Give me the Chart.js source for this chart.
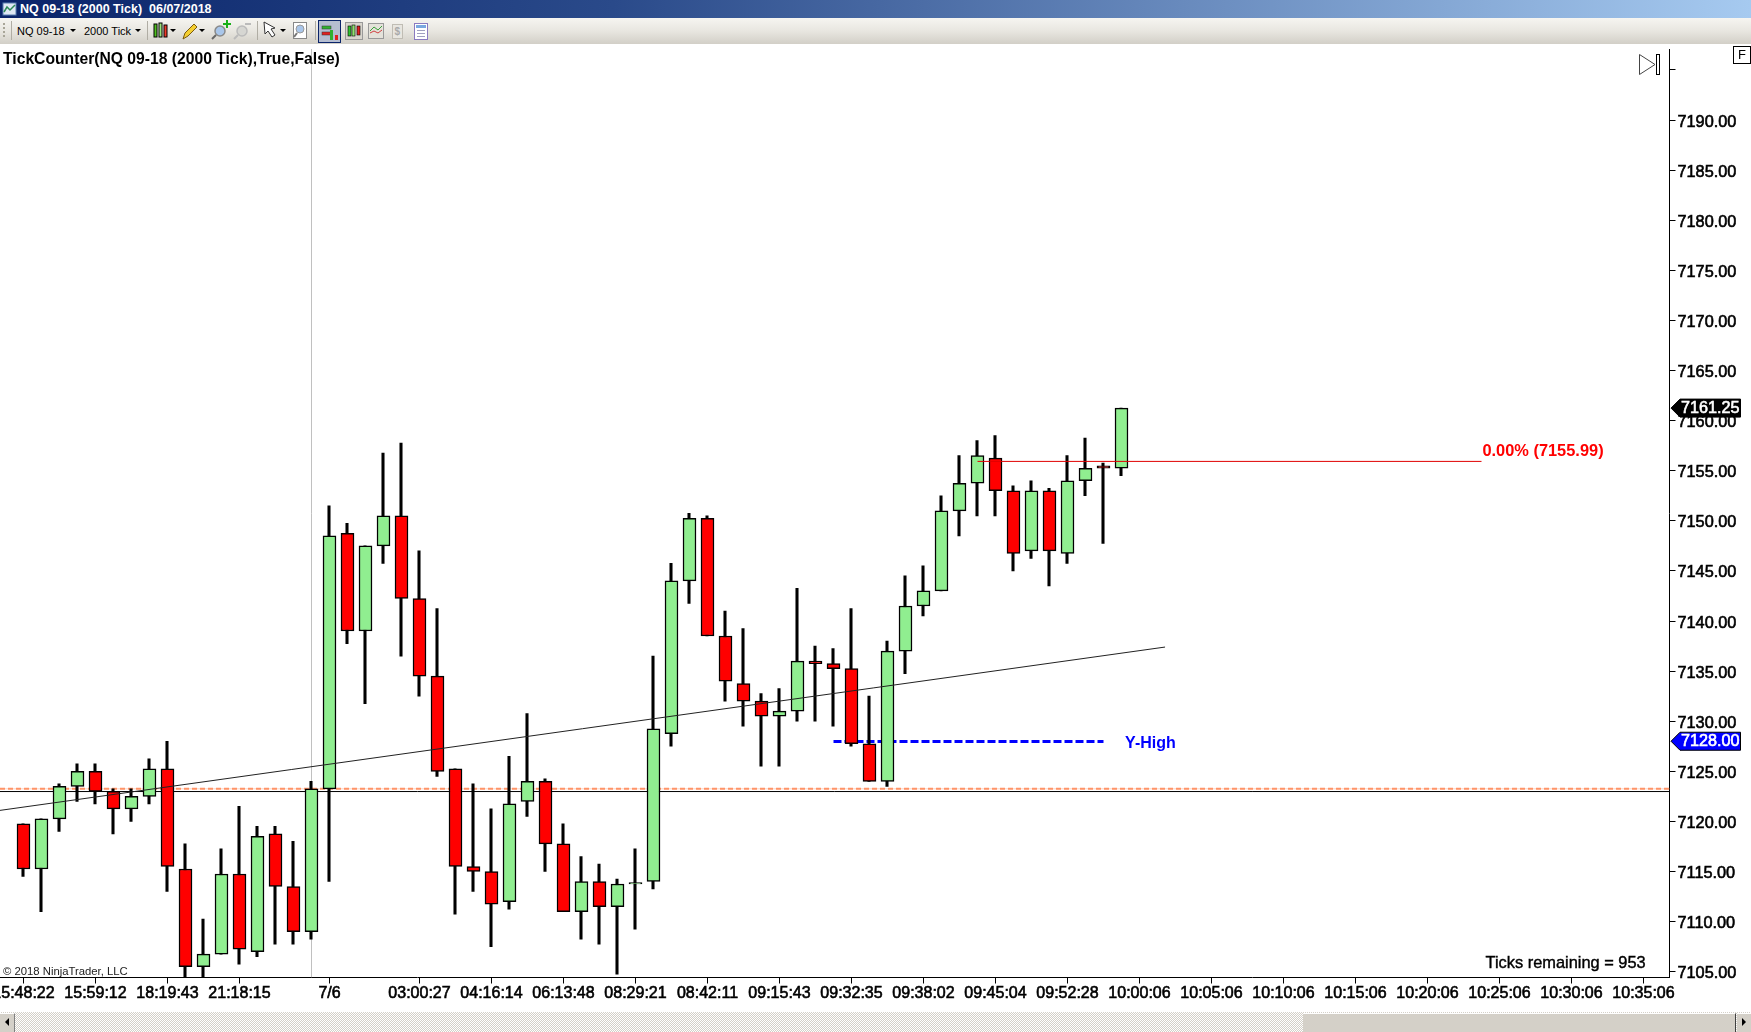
<!DOCTYPE html>
<html>
<head>
<meta charset="utf-8">
<title>NQ 09-18 (2000 Tick)</title>
<script src="https://cdn.jsdelivr.net/npm/chart.js@4"></script>
<style>
  html, body { margin: 0; padding: 0; background: #fff; overflow: hidden; }
  body { width: 1751px; height: 1032px; position: relative; font-family: "Liberation Sans", Arial, sans-serif; }
  #titlebar { position: absolute; left: 0; top: 0; width: 1751px; height: 18px; background: linear-gradient(to right, #0a246a 0%, #2a4a8a 35%, #a6caf0 100%); color: #fff; font: bold 12.5px "Liberation Sans", Arial, sans-serif; line-height: 18px; }
  #titlebar span { position: absolute; left: 20px; top: 0; white-space: pre; }
  #toolbar { position: absolute; left: 0; top: 18px; width: 1751px; height: 26px; background: linear-gradient(to bottom, #f6f5f1 0%, #e8e6e0 50%, #d2cfc7 100%); }
  #toolbar span { position: absolute; top: 7px; font: 11px "Liberation Sans", Arial, sans-serif; color: #000; }
  #toolbar svg { position: absolute; left: 0; top: 0; }
  #chartbox { position: absolute; left: 0; top: 44px; width: 1751px; height: 968px; }
  #scrollbar { position: absolute; left: 0; top: 1012px; width: 1751px; height: 20px; background-color: #fff; background-image: repeating-conic-gradient(#d4d0c8 0 25%, #fff 0 50%); background-size: 2px 2px; }
  #scrollbar div { position: absolute; top: 1px; height: 19px; background: #d4d0c8; border-top: 1px solid #fff; box-sizing: border-box; }
  #btnL { left: 0; width: 15px; border-right: 1px solid #808080; }
  #thumb { left: 1303px; width: 433px; border-right: 1px solid #404040; }
  #btnR { left: 1737px; width: 14px; }
  #scrollbar svg { position: absolute; left: 0; top: 0; }
</style>
</head>
<body>
<div id="titlebar"><svg width="18" height="18" style="position:absolute;left:2px;top:0"><rect x="1" y="3" width="13" height="12" fill="#dfe8f5" stroke="#5a7fb0"/><polyline points="2,12 5,7 8,10 13,5" fill="none" stroke="#2e8b57" stroke-width="1.5"/></svg><span>NQ 09-18 (2000 Tick)  06/07/2018</span></div>
<div id="toolbar">
  <span style="left:17px">NQ 09-18</span>
  <span style="left:84px">2000 Tick</span>
  <svg width="440" height="26">
    <g fill="#a8a598"><rect x="3" y="5" width="2" height="2"/><rect x="3" y="9" width="2" height="2"/><rect x="3" y="13" width="2" height="2"/><rect x="3" y="17" width="2" height="2"/></g>
    <g stroke="#b0ada4"><line x1="11.5" y1="3" x2="11.5" y2="22"/><line x1="147.5" y1="3" x2="147.5" y2="22"/><line x1="257.5" y1="3" x2="257.5" y2="22"/><line x1="315.5" y1="3" x2="315.5" y2="22"/></g>
    <g fill="#000"><path d="M70 11h6l-3 3z"/><path d="M135 11h6l-3 3z"/><path d="M170 11h6l-3 3z"/><path d="M199 11h6l-3 3z"/><path d="M280 11h6l-3 3z"/></g>
    <g stroke="#000"><rect x="154" y="6" width="3" height="13" fill="#4fc01f"/><rect x="159" y="5" width="3" height="14" fill="#9be37a"/><rect x="164" y="7" width="3" height="12" fill="#f03a2a"/></g>
    <path d="M183 21l2-6 9-9 3 3-9 9z" fill="#f5cf30" stroke="#7a5a10"/>
    <circle cx="220" cy="13" r="5" fill="#a9c6ea" stroke="#8a8a8a" stroke-width="1.5"/><line x1="216" y1="17" x2="212" y2="21" stroke="#666" stroke-width="2"/><path d="M223 5h3V2h2v3h3v2h-3v3h-2V7h-3z" fill="#18b018"/>
    <circle cx="242" cy="13" r="5" fill="#d6d6d2" stroke="#bbb" stroke-width="1.5"/><line x1="238" y1="17" x2="234" y2="21" stroke="#bbb" stroke-width="2"/><rect x="245" y="5" width="6" height="2" fill="#bbb"/>
    <path d="M264 4l1 12 3-3 4 6 3-2-4-6 4-1z" fill="#fff" stroke="#333"/>
    <rect x="293.5" y="4.5" width="13" height="16" fill="#fff" stroke="#888"/><circle cx="300" cy="11" r="4" fill="#a9c6ea" stroke="#999"/><line x1="297" y1="15" x2="294" y2="19" stroke="#777" stroke-width="2"/>
    <rect x="318.5" y="2.5" width="22" height="22" fill="#b5bdd0" stroke="#0a246a"/>
    <g><rect x="322" y="8" width="9" height="3" fill="#30b030" stroke="#333" stroke-width=".5"/><rect x="322" y="14" width="9" height="3" fill="#e02020" stroke="#333" stroke-width=".5"/><rect x="330" y="12" width="3" height="10" fill="#30b030"/><rect x="335" y="17" width="3" height="5" fill="#e02020"/></g>
    <rect x="345.5" y="4.5" width="17" height="17" fill="#d8d5cd" stroke="#999"/><g stroke="#000" stroke-width=".6"><rect x="348" y="8" width="3" height="10" fill="#30c030"/><rect x="352" y="7" width="3" height="11" fill="#90e070"/><rect x="357" y="8" width="3" height="9" fill="#e02020"/></g>
    <rect x="368.5" y="5.5" width="15" height="15" fill="#e4e2da" stroke="#999"/><polyline points="370,13 374,9 378,12 382,8" fill="none" stroke="#3aa03a"/><polyline points="370,15 374,13 378,15 382,12" fill="none" stroke="#d04040"/>
    <rect x="392.5" y="6.5" width="10" height="14" fill="#e8e6e0" stroke="#c0bdb4"/><text x="394.5" y="17" font-family="Liberation Sans" font-size="10" font-weight="bold" fill="#aaa">$</text>
    <rect x="414.5" y="5.5" width="13" height="16" fill="#fff" stroke="#8a7ac0"/><rect x="416" y="7" width="10" height="3" fill="#7aa8e0"/><g stroke="#a0a0c0"><line x1="417" y1="12.5" x2="425" y2="12.5"/><line x1="417" y1="15.5" x2="425" y2="15.5"/><line x1="417" y1="18.5" x2="425" y2="18.5"/></g>
  </svg>
</div>
<div id="chartbox"><canvas id="candleChart" width="1751" height="968"></canvas></div>
<div id="scrollbar">
  <div id="btnL"></div><div id="thumb"></div><div id="btnR"></div>
  <svg width="1751" height="20"><path d="M5 10l4-4v8z" fill="#000"/><path d="M1746 10l-4-4v8z" fill="#000"/></svg>
</div>

<script>
// bars, one entry per 2000 tick bar
const opens = [7119.75, 7115.25, 7120.25, 7123.5, 7125, 7123, 7121.25, 7122.5, 7125.25, 7115.25, 7105.5, 7106.75, 7114.75, 7107, 7118.75, 7113.5, 7109,
  7123.25, 7148.75, 7139, 7147.5, 7150.5, 7142.25, 7134.5, 7125.25, 7115.5, 7115, 7112, 7122, 7124, 7117.75, 7111, 7114, 7111.5, 7113.75,
  7114, 7128.75, 7144, 7150.25, 7138.5, 7133.75, 7132, 7130.5, 7131, 7136, 7135.75, 7135.25, 7127.75, 7124, 7137, 7141.5, 7143, 7151, 7153.75,
  7156.25, 7153, 7147, 7153, 7146.75, 7154, 7155.5, 7155.25];
const closes = [7115.25, 7120.25, 7123.5, 7125, 7123, 7121.25, 7122.5, 7125.25, 7115.5, 7105.5, 7106.75, 7114.75, 7107.25, 7118.5, 7113.5, 7109, 7123.25,
  7148.5, 7139, 7147.5, 7150.5, 7142.25, 7134.5, 7125, 7115.5, 7115, 7111.75, 7121.75, 7124, 7117.75, 7111, 7114, 7111.5, 7113.75, 7113.75,
  7129.25, 7144, 7150.25, 7138.5, 7134, 7132, 7130.5, 7131, 7136, 7135.75, 7135.25, 7127.75, 7124, 7137, 7141.5, 7143, 7151, 7153.75, 7156.5,
  7153, 7146.75, 7153, 7147, 7154, 7155.25, 7155.25, 7161.25];
const highs = [7119.75, 7120.25, 7123.75, 7125.75, 7125.75, 7123.25, 7123.25, 7126.25, 7128, 7117.75, 7110.25, 7117.25, 7121.5, 7119.5, 7119.5, 7118, 7124,
  7151.5, 7149.75, 7147.5, 7156.75, 7157.75, 7147, 7141.25, 7125.25, 7123.75, 7121.25, 7126.5, 7130.75, 7124.25, 7119.75, 7116.5, 7115.75, 7114.25, 7117.25,
  7136.5, 7145.75, 7150.75, 7150.5, 7141, 7139.25, 7132.75, 7133.25, 7143.25, 7137.5, 7137.25, 7141.25, 7132.5, 7138, 7144.5, 7145.5, 7152.5, 7156.5, 7158,
  7158.5, 7153.5, 7154, 7153.25, 7156.5, 7158.25, 7155.75, 7161.25];
const lows = [7114.5, 7111, 7119, 7122, 7121.75, 7118.75, 7120, 7121.75, 7113, 7104.5, 7104.5, 7106.75, 7105.75, 7106.5, 7107.75, 7107.75, 7108.25,
  7114, 7137.75, 7131.75, 7145.75, 7136.5, 7132.5, 7124.5, 7110.75, 7113, 7107.5, 7111.25, 7120.5, 7115, 7111, 7108.25, 7107.75, 7104.75, 7109.25,
  7113.25, 7127.5, 7141.75, 7138.5, 7132, 7129.5, 7125.5, 7125.5, 7130, 7130, 7129.5, 7127.5, 7124, 7123.5, 7134.75, 7140.5, 7143, 7148.5, 7150.5,
  7150.5, 7145, 7146.25, 7143.5, 7145.75, 7152.5, 7147.75, 7154.5];

const xTickBars = [0, 4, 8, 12, 17, 22, 26, 30, 34, 38, 42, 46, 50, 54, 58, 62, 66, 70, 74, 78, 82, 86, 90];
const xTickLabels = ['15:48:22', '15:59:12', '18:19:43', '21:18:15', '7/6', '03:00:27', '04:16:14', '06:13:48', '08:29:21', '08:42:11', '09:15:43', '09:32:35',
  '09:38:02', '09:45:04', '09:52:28', '10:00:06', '10:05:06', '10:10:06', '10:15:06', '10:20:06', '10:25:06', '10:30:06', '10:35:06'];
const yTicks = [7105, 7110, 7115, 7120, 7125, 7130, 7135, 7140, 7145, 7150, 7155, 7160, 7165, 7170, 7175, 7180, 7185, 7190, 7195];
const yHiddenTicks = [7195];

// drawn objects on the chart
const trendLine = [{x: -1.3056, y: 7121.1}, {x: 63.42, y: 7137.4}];
const blackLevel = 7122.98;
const orangeLevel = 7123.25;
const yHighLevel = 7127.97;
const yHighBars = [45, 60];
const fibLevel = 7155.93;
const fibBars = [53, 81];
const sessionBreakBar = 16;

const xMin = -23.5 / 18;
const xMax = 1646 / 18;
const yMin = 7104.42;
const yMax = 7197.09;
const wickShift = -0.5 / 18;

const upColor = '#90ee90';
const downColor = '#ff0000';
const fontName = '"Liberation Sans", Arial, sans-serif';

const bodies = opens.map((o, i) => ({x: i, y: [o, closes[i]]}));
const wicks = highs.map((h, i) => ({x: i + wickShift, y: [lows[i], h]}));

function hline(value, from, to) {
    return [{x: from, y: value}, {x: to, y: value}];
}

function lineSet(data, color, width, order, dash) {
    return {
        type: 'line',
        data: data,
        borderColor: color,
        borderWidth: width,
        borderDash: dash || [],
        pointRadius: 0,
        order: order
    };
}

function priceTag(ctx, scale, value, fill, label) {
    const y = scale.getPixelForValue(value);
    ctx.beginPath();
    ctx.moveTo(1671, y);
    ctx.lineTo(1680, y - 9);
    ctx.lineTo(1740.5, y - 9);
    ctx.lineTo(1740.5, y + 9);
    ctx.lineTo(1680, y + 9);
    ctx.closePath();
    ctx.fillStyle = fill;
    ctx.fill();
    ctx.strokeStyle = '#000';
    ctx.lineWidth = 1;
    ctx.stroke();
    drawText(ctx, label, 1681, y + 0.5, '#fff', '16.2px ' + fontName, 'left', 0.6);
}

function drawText(ctx, text, x, y, color, font, align, stroke) {
    ctx.font = font;
    ctx.fillStyle = color;
    ctx.textAlign = align;
    ctx.textBaseline = 'middle';
    ctx.fillText(text, x, y);
    if (stroke) {
        ctx.lineWidth = stroke;
        ctx.strokeStyle = color;
        ctx.strokeText(text, x, y);
    }
}

// everything NinjaTrader paints on top of the panel
const overlay = {
    id: 'overlay',
    afterDraw(chart) {
        const ctx = chart.ctx;
        const xs = chart.scales.x;
        const ys = chart.scales.y;
        ctx.save();

        drawText(ctx, 'TickCounter(NQ 09-18 (2000 Tick),True,False)', 3, 15.5, '#000', 'bold 15.7px ' + fontName, 'left');
        drawText(ctx, '\u00a9 2018 NinjaTrader, LLC', 3, 928, '#222', '11.3px ' + fontName, 'left');
        drawText(ctx, 'Ticks remaining = 953', 1485.5, 919.5, '#000', '16.4px ' + fontName, 'left', 0.4);

        drawText(ctx, 'Y-High', xs.getPixelForValue(61.2), ys.getPixelForValue(yHighLevel) + 2, '#0000ff', 'bold 16px ' + fontName, 'left');
        drawText(ctx, '0.00% (7155.99)', xs.getPixelForValue(81.05), ys.getPixelForValue(fibLevel) - 10, '#ff0000', 'bold 16.4px ' + fontName, 'left');

        priceTag(ctx, ys, 7161.25, '#000', '7161.25');
        priceTag(ctx, ys, 7128, '#0000ff', '7128.00');

        // F box, top right
        ctx.strokeStyle = '#000';
        ctx.lineWidth = 1;
        ctx.fillStyle = '#fff';
        ctx.fillRect(1733.5, 2.5, 17, 17);
        ctx.strokeRect(1733.5, 2.5, 17, 17);
        drawText(ctx, 'F', 1742, 11.5, '#000', '13px ' + fontName, 'center');

        // jump to last bar button
        ctx.strokeStyle = '#444';
        ctx.beginPath();
        ctx.moveTo(1639.5, 10.5);
        ctx.lineTo(1655, 20.5);
        ctx.lineTo(1639.5, 30.5);
        ctx.closePath();
        ctx.stroke();
        ctx.strokeStyle = '#000';
        ctx.strokeRect(1656.5, 10.5, 3, 20);

        ctx.restore();
    }
};

const candleChart = new Chart(document.getElementById('candleChart').getContext('2d'), {
    type: 'bar',
    data: {
        datasets: [
            lineSet(trendLine, '#222', 1, 1),
            lineSet(hline(fibLevel, fibBars[0], fibBars[1]), '#e00000', 1, 2),
            {
                data: bodies,
                backgroundColor: bodies.map((b, i) => closes[i] >= opens[i] ? upColor : downColor),
                borderColor: '#000',
                borderWidth: 1.5,
                borderSkipped: false,
                barThickness: 13,
                minBarLength: 1.5,
                order: 3
            },
            {
                data: wicks,
                backgroundColor: '#000',
                barThickness: 2.4,
                order: 4
            },
            lineSet(hline(yHighLevel, yHighBars[0], yHighBars[1]), '#0000ff', 3, 5, [8, 3]),
            lineSet(hline(orangeLevel, xMin, xMax), '#ff9468', 2, 6, [5, 3]),
            lineSet(hline(orangeLevel, xMin, xMax), '#ffd2c0', 1, 7),
            lineSet(hline(blackLevel, xMin, xMax), '#000', 1, 8),
            lineSet([{x: sessionBreakBar, y: yMin}, {x: sessionBreakBar, y: yMax}], '#c0c0c0', 1, 9)
        ]
    },
    options: {
        responsive: false,
        animation: false,
        grouped: false,
        layout: {padding: {top: 5, left: 0, right: 0, bottom: 0}},
        plugins: {legend: {display: false}, tooltip: {enabled: false}},
        scales: {
            x: {
                type: 'linear',
                offset: false,
                min: xMin,
                max: xMax,
                border: {color: '#000', width: 1},
                grid: {offset: false, drawOnChartArea: false, tickLength: 6, tickColor: '#000'},
                afterBuildTicks: s => { s.ticks = xTickBars.map(v => ({value: v})); },
                afterFit: s => { s.height = 34.5; s.paddingLeft = 0; s.paddingRight = 0; },
                ticks: {
                    autoSkip: false,
                    minRotation: 0,
                    maxRotation: 0,
                    padding: 0,
                    color: '#000',
                    textStrokeColor: '#000',
                    textStrokeWidth: 0.6,
                    font: {family: fontName, size: 16},
                    callback: v => xTickLabels[xTickBars.indexOf(v)]
                }
            },
            y: {
                type: 'linear',
                position: 'right',
                min: yMin,
                max: yMax,
                border: {color: '#000', width: 1},
                grid: {drawOnChartArea: false, tickLength: 6, tickColor: '#000'},
                afterBuildTicks: s => { s.ticks = yTicks.map(v => ({value: v})); },
                afterFit: s => { s.width = 81.5; s.paddingTop = 0; s.paddingBottom = 0; },
                ticks: {
                    padding: 2,
                    labelOffset: 2,
                    color: '#000',
                    textStrokeColor: '#000',
                    textStrokeWidth: 0.6,
                    font: {family: fontName, size: 16.3},
                    callback: v => yHiddenTicks.includes(v) ? '' : v.toFixed(2)
                }
            }
        }
    },
    plugins: [overlay]
});
</script>
</body>
</html>
